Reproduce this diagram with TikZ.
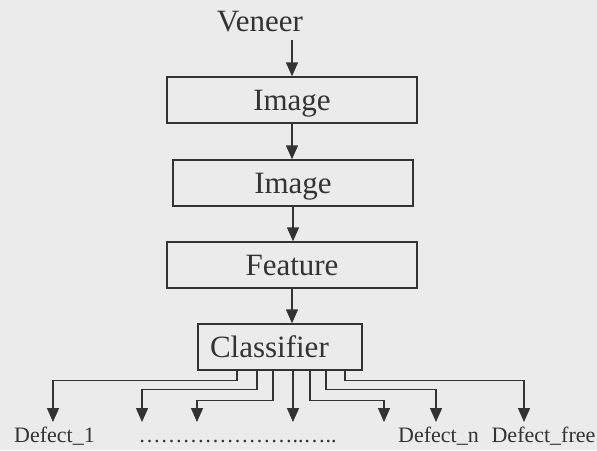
\documentclass[tikz,border=0pt]{standalone}
\usepackage{fontspec}
\setmainfont{Liberation Serif}
\usetikzlibrary{arrows.meta,calc}
\definecolor{bg}{HTML}{EBEBEB}
\definecolor{ink}{HTML}{333333}
\begin{document}
\begin{tikzpicture}[x=1pt,y=-1pt,
  box/.style={draw=ink, line width=1.4pt, inner sep=0pt, text height=20pt, text depth=0pt,
    font=\fontsize{31}{36}\selectfont, text=ink, minimum height=46pt},
  arr/.style={draw=ink, line width=1.4pt, -{Triangle[width=12pt,length=14pt]}},
  lbl/.style={font=\fontsize{22}{26}\selectfont, text=ink, anchor=base, inner sep=0pt}]
\fill[bg] (0,0) rectangle (597,450);
\useasboundingbox (0,0) rectangle (597,450);
\node[anchor=base, inner sep=0pt, font=\fontsize{31}{36}\selectfont, text=ink] (ven) at (260,31.7) {Veneer};
\node[box, minimum width=250pt] (img1) at (292,100) {Image};
\node[box, minimum width=240pt] (img2) at (293,183) {Image};
\node[box, minimum width=250pt] (feat) at (292,265) {Feature};
\node[box, minimum width=164pt, text width=140pt, align=left, inner xsep=12pt] (cls) at (280,347) {Classifier};

\draw[arr] (img1.north |- ven.south) ++(0,8) -- (img1.north);
\draw[arr] (img1.south) -- (img1.south |- img2.north);
\draw[arr] (img2.south) -- (img2.south |- feat.north);
\draw[arr] (feat.south) -- (feat.south |- cls.north);

\coordinate (e1) at (53,422);
\coordinate (e2) at (142,422);
\coordinate (e3) at (197,422);
\coordinate (e4) at (293,422);
\coordinate (e5) at (384,422);
\coordinate (e6) at (436,422);
\coordinate (e7) at (524,422);

\draw[arr] ([xshift=-43pt]cls.south) -- ++(0,10) -| (e1);
\draw[arr] ([xshift=-23pt]cls.south) -- ++(0,19) -| (e2);
\draw[arr] ([xshift=-7pt]cls.south) -- ++(0,30) -| (e3);
\draw[arr] ([xshift=13pt]cls.south) -- (e4);
\draw[arr] ([xshift=30pt]cls.south) -- ++(0,30) -| (e5);
\draw[arr] ([xshift=46pt]cls.south) -- ++(0,19) -| (e6);
\draw[arr] ([xshift=65pt]cls.south) -- ++(0,10) -| (e7);

\node[lbl] (d1) at (54.5,442) {Defect\_1};
\node[lbl] (dots) at (237.5,442) {…………………..…..};
\node[lbl] (dn) at (438.5,442) {Defect\_n};
\node[lbl] (df) at (543.5,442) {Defect\_free};
\end{tikzpicture}
\end{document}
